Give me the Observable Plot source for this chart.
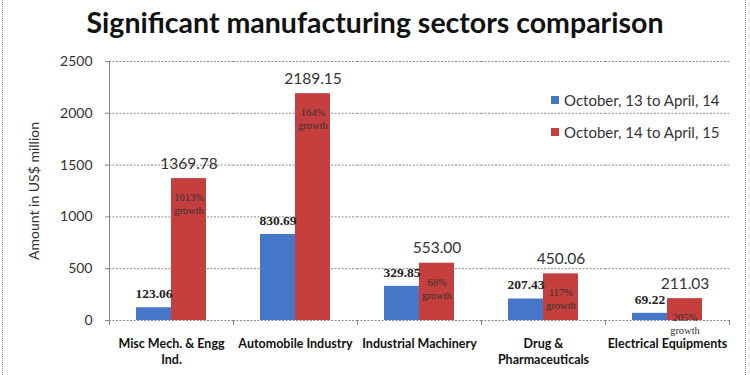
<!DOCTYPE html>
<html>
<head>
<meta charset="utf-8">
<script src="https://cdn.jsdelivr.net/npm/d3@7"></script>
<script src="https://cdn.jsdelivr.net/npm/@observablehq/plot@0.6"></script>
<style>
  html, body { margin: 0; padding: 0; background: #fff; }
  #wrap { position: relative; width: 750px; height: 375px; overflow: hidden; background: #fff; }
  #title { height: 45px; line-height: 44px; text-align: center; font-family: Lato, sans-serif; font-weight: bold; font-size: 28.5px; color: #111; }
  .edge { position: absolute; top: 0; bottom: 0; width: 0; border-left: 1px dotted #999; }
  #legend { position: absolute; left: 551px; top: 84px; font-family: Lato, sans-serif; font-size: 15px; color: #333; }
  #legend .item { display: flex; align-items: center; height: 32px; }
  #legend .sw { width: 8px; height: 8px; margin-right: 5px; }
</style>
</head>
<body>
<div id="wrap">
  <div id="title">Significant manufacturing sectors comparison</div>
  <div id="chart"></div>
  <div id="legend"></div>
  <div class="edge" style="left:2px"></div>
  <div class="edge" style="left:745px"></div>
</div>
<script>
const categories = ["Misc", "Auto", "IndMach", "Drug", "Elec"];
const tickLabels = ["Misc Mech. & Engg\nInd.", "Automobile Industry", "Industrial Machinery", "Drug &\nPharmaceuticals", "Electrical Equipments"];
const series = ["October, 13 to April, 14", "October, 14 to April, 15"];
const values2014 = [123.06, 830.69, 329.85, 207.43, 69.22];
const values2015 = [1369.78, 2189.15, 553.00, 450.06, 211.03];
const growth = ["1013%", "164%", "68%", "117%", "205%"];
const yTicks = [0, 500, 1000, 1500, 2000, 2500];
const colors = ["#4677c8", "#c43f3d"];

const rows2014 = categories.map((c, i) => ({category: c, series: series[0], value: values2014[i]}));
const rows2015 = categories.map((c, i) => ({category: c, series: series[1], value: values2015[i], growth: growth[i]}));
const rows = rows2014.concat(rows2015);
const labelOf = new Map(categories.map((c, i) => [c, tickLabels[i]]));

const plot = Plot.plot({
  width: 750,
  height: 330,
  marginTop: 16,
  marginBottom: 55,
  marginLeft: 107,
  marginRight: 20,
  style: {background: "transparent", overflow: "visible"},
  fx: {domain: categories, padding: 0},
  x: {domain: series, paddingInner: 0, paddingOuter: 0.77, axis: null},
  y: {domain: [0, 2500]},
  color: {domain: series, range: colors},
  marks: [
    Plot.gridY(yTicks, {stroke: "#8a8a8a", strokeOpacity: 1, strokeDasharray: "2,1.5"}),
    Plot.axisY(yTicks, {anchor: "left", tickSize: 4, tickPadding: 13, stroke: "#888", fill: "#333",
      tickFormat: d => String(d),
      fontSize: 14, fontFamily: "Lato, sans-serif",
      label: "Amount in US$ million", labelAnchor: "center", labelOffset: 80, labelArrow: "none"}),
    Plot.axisFx({anchor: "bottom", tickSize: 0, tickPadding: 16, label: null,
      tickFormat: d => labelOf.get(d), fontSize: 12.5, fontWeight: "bold", fill: "#111",
      fontFamily: "Lato, sans-serif", lineHeight: 1.3}),
    Plot.barY(rows, {fx: "category", x: "series", y: "value", fill: "series"}),
    Plot.text(rows2014, {fx: "category", x: "series", y: "value", text: d => d.value.toFixed(2),
      dy: -14, fontSize: 13.5, fontWeight: "bold", fontFamily: "Liberation Serif, serif", fill: "#222"}),
    Plot.text(rows2015, {fx: "category", x: "series", y: "value", text: d => d.value.toFixed(2),
      dy: -15, fontSize: 15.5, fontFamily: "Lato, sans-serif", fill: "#333"}),
    Plot.text(rows2015, {fx: "category", x: "series", y: "value", text: d => d.growth + "\ngrowth",
      lineAnchor: "top", dy: 13, lineHeight: 1.25, fontSize: 10.5, fontFamily: "Liberation Serif, serif", fill: "#333"})
  ]
});

document.getElementById("chart").appendChild(plot);

// axis line and category boundary ticks from the plot's own scales
const fx = plot.scale("fx");
const ys = plot.scale("y");
const svg = d3.select(plot);
const x0 = fx.apply(categories[0]);
const y0 = ys.apply(0);
const g = svg.append("g").attr("stroke", "#888").attr("stroke-width", 1);
g.append("line").attr("x1", x0 + 0.5).attr("x2", x0 + 0.5).attr("y1", ys.apply(2500)).attr("y2", y0);
const bounds = categories.map(c => fx.apply(c)).concat([fx.apply(categories[categories.length - 1]) + fx.bandwidth]);
bounds.forEach(b => g.append("line").attr("x1", b + 0.5).attr("x2", b + 0.5).attr("y1", y0).attr("y2", y0 + 5));

// legend
const legend = document.getElementById("legend");
series.forEach((s, i) => {
  const item = document.createElement("div");
  item.className = "item";
  const sw = document.createElement("span");
  sw.className = "sw";
  sw.style.background = colors[i];
  const t = document.createElement("span");
  t.textContent = s;
  item.appendChild(sw);
  item.appendChild(t);
  legend.appendChild(item);
});
</script>
</body>
</html>
